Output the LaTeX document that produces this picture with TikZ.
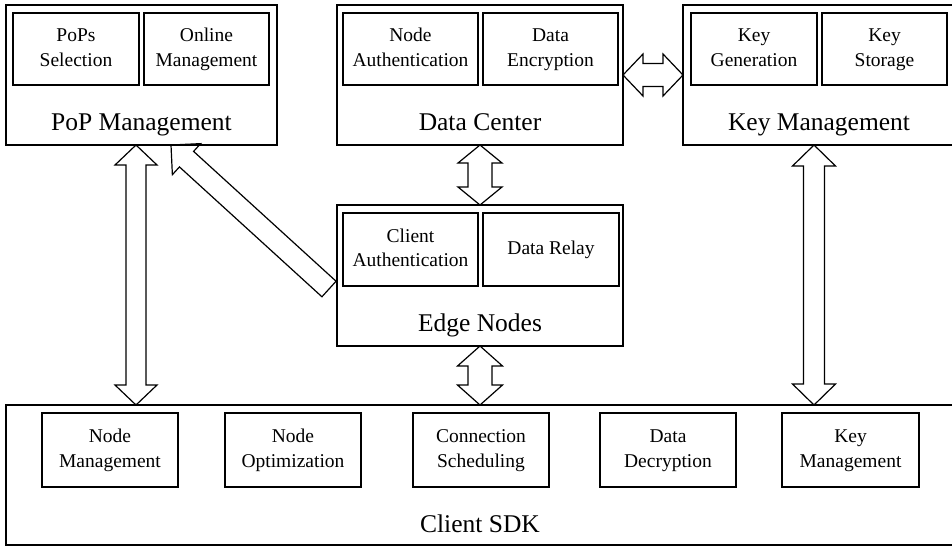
\documentclass[tikz,border=0pt]{standalone}
\usepackage{fontspec}
\setmainfont{Liberation Serif}
\usetikzlibrary{calc,backgrounds}
\tikzset{
  outerbox/.style={draw, line width=1.2pt, inner sep=0pt, outer sep=0pt},
  innerbox/.style={draw, line width=1.2pt, inner sep=0pt, outer sep=0pt, align=center,
    font=\fontsize{19.5}{24.5}\selectfont},
  biglabel/.style={inner sep=0pt, anchor=base, font=\fontsize{25.5}{30}\selectfont},
  fatarrow/.style={draw, line width=1.2pt, fill=white, line join=miter},
}
\newcommand\TwoL[2]{\strut #1\\\strut #2}
% double fat arrow: #1 A, #2 B, #3 head length, #4 head half width, #5 shaft half width
\newcommand\DblFat[5]{%
  \coordinate (da) at ($(#1)!#3!(#2)$);
  \coordinate (db) at ($(#2)!#3!(#1)$);
  \draw[fatarrow] (#1) -- ($(da)!#4!90:(#2)$) -- ($(da)!#5!90:(#2)$)
    -- ($(db)!#5!-90:(#1)$) -- ($(db)!#4!-90:(#1)$) -- (#2)
    -- ($(db)!#4!90:(#1)$) -- ($(db)!#5!90:(#1)$)
    -- ($(da)!#5!-90:(#2)$) -- ($(da)!#4!-90:(#2)$) -- cycle;
}
% single fat arrow: #1 tail, #2 tip
\newcommand\SglFat[5]{%
  \coordinate (sb) at ($(#2)!#3!(#1)$);
  \draw[fatarrow] ($(#1)!#5!90:(#2)$) -- ($(sb)!#5!-90:(#1)$) -- ($(sb)!#4!-90:(#1)$)
    -- (#2) -- ($(sb)!#4!90:(#1)$) -- ($(sb)!#5!90:(#1)$) -- ($(#1)!#5!-90:(#2)$) -- cycle;
}
\begin{document}
\begin{tikzpicture}[x=1pt, y=-1pt]
\useasboundingbox (0,0) rectangle (952,547);

% PoP Management
\node[outerbox, minimum width=271pt, minimum height=140pt] (pop) at (141.5,75) {};
\node[innerbox, minimum width=126pt, minimum height=72pt] (pops) at (76,49) {\TwoL{PoPs}{Selection}};
\node[innerbox, minimum width=125pt, minimum height=72pt] (onl) at (206.5,49) {\TwoL{Online}{Management}};
\node[biglabel] (poplbl) at (141.5,130) {PoP Management};

% Data Center
\node[outerbox, minimum width=286pt, minimum height=140pt] (dc) at (480,75) {};
\node[innerbox, minimum width=135pt, minimum height=72pt] (nauth) at (410.5,49) {\TwoL{Node}{Authentication}};
\node[innerbox, minimum width=135pt, minimum height=72pt] (denc) at (550.5,49) {\TwoL{Data}{Encryption}};
\node[biglabel] (dclbl) at (480,130) {Data Center};

% Key Management
\node[outerbox, minimum width=272pt, minimum height=140pt] (km) at (819,75) {};
\node[innerbox, minimum width=126pt, minimum height=72pt] (kgen) at (754,49) {\TwoL{Key}{Generation}};
\node[innerbox, minimum width=125pt, minimum height=72pt] (kst) at (884.5,49) {\TwoL{Key}{Storage}};
\node[biglabel] (kmlbl) at (819,130) {Key Management};

% Edge Nodes
\node[outerbox, minimum width=286pt, minimum height=141pt] (edge) at (480,275.5) {};
\node[innerbox, minimum width=135pt, minimum height=73pt] (cauth) at (410.5,249.5) {\TwoL{Client}{Authentication}};
\node[innerbox, minimum width=136pt, minimum height=73pt] (drel) at (551,249.5) {\strut Data Relay};
\node[biglabel] (edgelbl) at (480,331) {Edge Nodes};

% Client SDK
\node[outerbox, minimum width=948pt, minimum height=140pt] (sdk) at (480,475) {};
\node[innerbox, minimum width=136pt, minimum height=74pt] (nmg) at (110,450) {\TwoL{Node}{Management}};
\node[innerbox, minimum width=136pt, minimum height=74pt] (nopt) at (293,450) {\TwoL{Node}{Optimization}};
\node[innerbox, minimum width=136pt, minimum height=74pt] (csch) at (481,450) {\TwoL{Connection}{Scheduling}};
\node[innerbox, minimum width=136pt, minimum height=74pt] (ddec) at (668,450) {\TwoL{Data}{Decryption}};
\node[innerbox, minimum width=137pt, minimum height=74pt] (kmg) at (850.5,450) {\TwoL{Key}{Management}};
\node[biglabel] (sdklbl) at (480,532) {Client SDK};

% connector end points
\coordinate (popS) at (136,145);
\coordinate (sdkA) at (136,405);
\coordinate (kmS) at (814,145);
\coordinate (sdkB) at (814,405);
\coordinate (edgeT) at (329,289);
\coordinate (popT) at (171,145);

\begin{scope}[on background layer]
\DblFat{popS}{sdkA}{20pt}{21pt}{10pt}
\DblFat{kmS}{sdkB}{21pt}{21.5pt}{10.5pt}
\DblFat{dc.south}{edge.north}{18pt}{22pt}{12pt}
\DblFat{edge.south}{sdk.north}{20pt}{22.5pt}{12pt}
\DblFat{dc.east}{km.west}{20pt}{21pt}{11.5pt}
\SglFat{edgeT}{popT}{21pt}{21pt}{10.5pt}
\end{scope}
\end{tikzpicture}
\end{document}
